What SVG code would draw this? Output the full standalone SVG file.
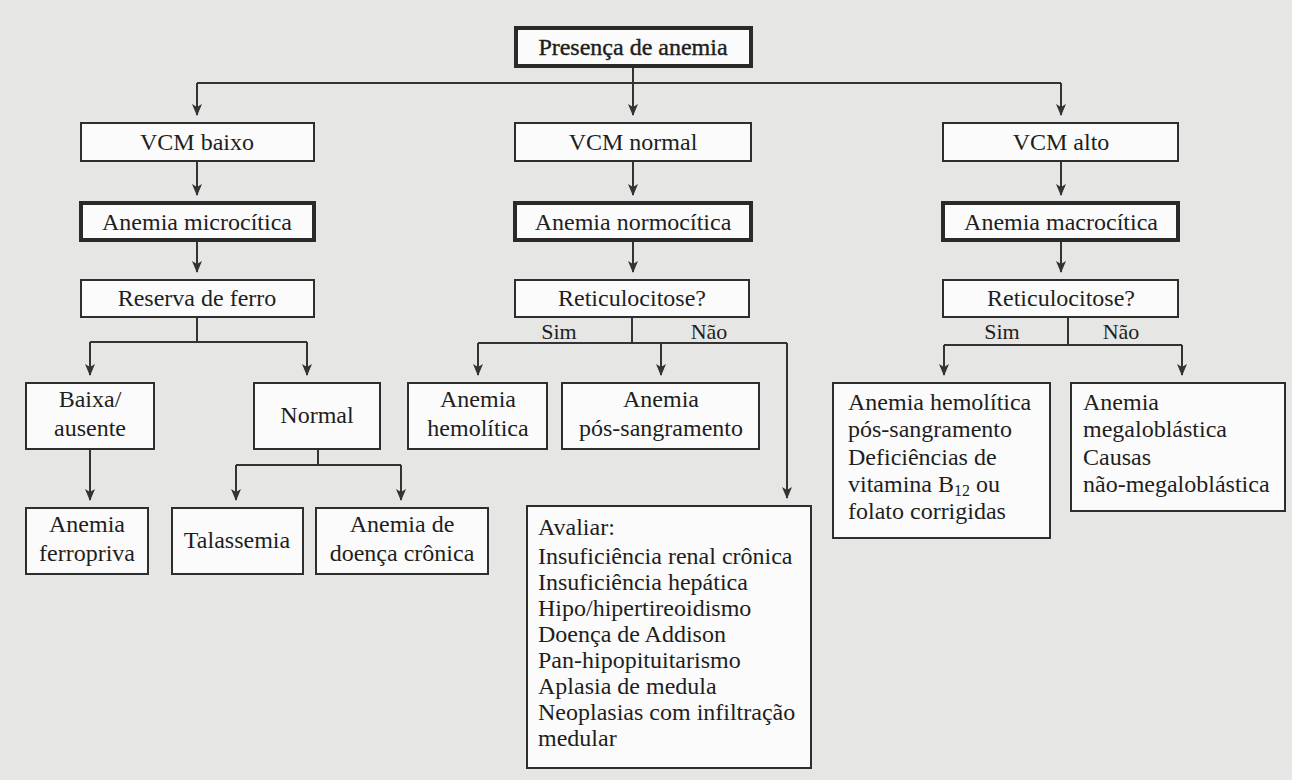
<svg xmlns="http://www.w3.org/2000/svg" width="1292" height="780" viewBox="0 0 1292 780">
<style>
.bg{fill:#e6e6e4}
.box{fill:#fbfbfb;stroke:#2e2e2e;stroke-width:2}
.tbox{fill:#fbfbfb;stroke:#2a2a2a;stroke-width:4}
.t{font-family:"Liberation Serif","Times New Roman",serif;font-size:24px;fill:#1e1e1e}
.c{text-anchor:middle}
.lbl{font-family:"Liberation Serif","Times New Roman",serif;font-size:22px;fill:#1e1e1e;text-anchor:middle}
.ln{fill:none;stroke:#333;stroke-width:2}
</style>
<defs>
<marker id="ah" markerWidth="12" markerHeight="10" refX="11" refY="5" orient="auto" markerUnits="userSpaceOnUse">
<path d="M0,0 L12,5 L0,10 L3,5 z" fill="#333"/>
</marker>
</defs>
<rect class="bg" x="0" y="0" width="1292" height="780"/>

<g id="connectors">
<path class="ln" d="M633,66 V83 M197,83 H1061"/>
<path class="ln" marker-end="url(#ah)" d="M197,83 V115"/>
<path class="ln" marker-end="url(#ah)" d="M633,83 V115"/>
<path class="ln" marker-end="url(#ah)" d="M1061,83 V115"/>
<path class="ln" marker-end="url(#ah)" d="M197,161 V195"/>
<path class="ln" marker-end="url(#ah)" d="M633,161 V195"/>
<path class="ln" marker-end="url(#ah)" d="M1061,161 V195"/>
<path class="ln" marker-end="url(#ah)" d="M197,240 V272"/>
<path class="ln" marker-end="url(#ah)" d="M633,240 V272"/>
<path class="ln" marker-end="url(#ah)" d="M1061,240 V272"/>
<path class="ln" d="M197,317 V342 M90,342 H307"/>
<path class="ln" marker-end="url(#ah)" d="M90,342 V375"/>
<path class="ln" marker-end="url(#ah)" d="M307,342 V375"/>
<path class="ln" d="M632,317 V343 M478,343 H787"/>
<path class="ln" marker-end="url(#ah)" d="M478,343 V375"/>
<path class="ln" marker-end="url(#ah)" d="M661,343 V375"/>
<path class="ln" marker-end="url(#ah)" d="M787,343 V498"/>
<path class="ln" d="M1068,317 V345 M944,345 H1182"/>
<path class="ln" marker-end="url(#ah)" d="M944,345 V375"/>
<path class="ln" marker-end="url(#ah)" d="M1182,345 V375"/>
<path class="ln" marker-end="url(#ah)" d="M90,449 V500"/>
<path class="ln" d="M318,449 V465 M236,465 H401"/>
<path class="ln" marker-end="url(#ah)" d="M236,465 V500"/>
<path class="ln" marker-end="url(#ah)" d="M401,465 V500"/>
<text class="lbl" x="559" y="339">Sim</text>
<text class="lbl" x="709" y="339">Não</text>
<text class="lbl" x="1002" y="339">Sim</text>
<text class="lbl" x="1121" y="339">Não</text>
</g>

<g id="presenca"><rect class="tbox" x="516" y="28" width="235" height="38"/><text class="t c" x="633" y="55" stroke="#1e1e1e" stroke-width="0.4">Presença de anemia</text></g>

<g id="vcm-baixo"><rect class="box" x="81" y="123" width="233" height="38"/><text class="t c" x="197" y="150">VCM baixo</text></g>
<g id="vcm-normal"><rect class="box" x="515" y="123" width="236" height="38"/><text class="t c" x="633" y="150">VCM normal</text></g>
<g id="vcm-alto"><rect class="box" x="943" y="123" width="235" height="38"/><text class="t c" x="1061" y="150">VCM alto</text></g>

<g id="microcitica"><rect class="tbox" x="81" y="203" width="233" height="37"/><text class="t c" x="197" y="230">Anemia microcítica</text></g>
<g id="normocitica"><rect class="tbox" x="515" y="203" width="236" height="37"/><text class="t c" x="633" y="230">Anemia normocítica</text></g>
<g id="macrocitica"><rect class="tbox" x="943" y="203" width="235" height="37"/><text class="t c" x="1061" y="230">Anemia macrocítica</text></g>

<g id="reserva"><rect class="box" x="81" y="280" width="233" height="37"/><text class="t c" x="197" y="306">Reserva de ferro</text></g>
<g id="retic-normo"><rect class="box" x="515" y="280" width="234" height="37"/><text class="t c" x="632" y="306">Reticulocitose?</text></g>
<g id="retic-macro"><rect class="box" x="943" y="280" width="235" height="37"/><text class="t c" x="1061" y="306">Reticulocitose?</text></g>

<g id="baixa"><rect class="box" x="26" y="383" width="128" height="66"/><text class="t c" x="90" y="407">Baixa/</text><text class="t c" x="90" y="436">ausente</text></g>
<g id="normal"><rect class="box" x="254" y="383" width="126" height="66"/><text class="t c" x="317" y="423">Normal</text></g>
<g id="hemolitica"><rect class="box" x="408" y="383" width="139" height="66"/><text class="t c" x="478" y="407">Anemia</text><text class="t c" x="478" y="436">hemolítica</text></g>
<g id="pos-sangramento"><rect class="box" x="562" y="383" width="197" height="66"/><text class="t c" x="661" y="407">Anemia</text><text class="t c" x="661" y="436">pós-sangramento</text></g>

<g id="macro-sim"><rect class="box" x="833" y="383" width="217" height="155"/>
<text class="t" x="848" y="410">Anemia hemolítica</text>
<text class="t" x="848" y="437">pós-sangramento</text>
<text class="t" x="848" y="465">Deficiências de</text>
<text class="t" x="848" y="492">vitamina B<tspan font-size="16" dy="4">12</tspan><tspan dy="-4"> ou</tspan></text>
<text class="t" x="848" y="519">folato corrigidas</text></g>

<g id="macro-nao"><rect class="box" x="1071" y="383" width="214" height="128"/>
<text class="t" x="1083" y="410">Anemia</text>
<text class="t" x="1083" y="437">megaloblástica</text>
<text class="t" x="1083" y="465">Causas</text>
<text class="t" x="1083" y="492">não-megaloblástica</text></g>

<g id="ferropriva"><rect class="box" x="26" y="508" width="122" height="66"/><text class="t c" x="87" y="532">Anemia</text><text class="t c" x="87" y="561">ferropriva</text></g>
<g id="talassemia"><rect class="box" x="172" y="508" width="131" height="66"/><text class="t c" x="237" y="548">Talassemia</text></g>
<g id="doenca-cronica"><rect class="box" x="316" y="508" width="172" height="66"/><text class="t c" x="402" y="532">Anemia de</text><text class="t c" x="402" y="561">doença crônica</text></g>

<g id="avaliar"><rect class="box" x="527" y="506" width="284" height="262"/>
<text class="t" x="538" y="535">Avaliar:</text>
<text class="t" x="538" y="564">Insuficiência renal crônica</text>
<text class="t" x="538" y="590">Insuficiência hepática</text>
<text class="t" x="538" y="616">Hipo/hipertireoidismo</text>
<text class="t" x="538" y="642">Doença de Addison</text>
<text class="t" x="538" y="668">Pan-hipopituitarismo</text>
<text class="t" x="538" y="694">Aplasia de medula</text>
<text class="t" x="538" y="720">Neoplasias com infiltração</text>
<text class="t" x="538" y="746">medular</text></g>
</svg>
